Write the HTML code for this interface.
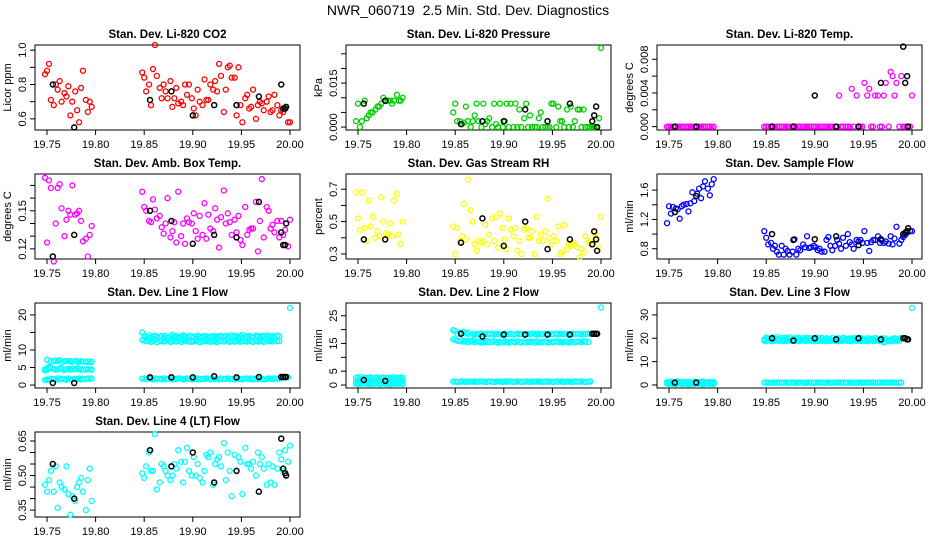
<!DOCTYPE html>
<html><head><meta charset="utf-8"><style>
html,body{margin:0;padding:0;background:#fff}
svg{display:block;font-family:"Liberation Sans",Arial,sans-serif}
</style></head><body>
<svg id="chart" width="936" height="540" viewBox="0 0 936 540" xmlns="http://www.w3.org/2000/svg">
<text x="468" y="15" font-size="14" text-anchor="middle">NWR_060719 &#160;2.5 Min. Std. Dev. Diagnostics</text>
</svg>
<script>
const T = [19.748,19.750,19.752,19.754,19.757,19.759,19.761,19.763,19.765,19.768,19.770,19.772,19.774,19.776,19.779,19.781,19.783,19.785,19.787,19.790,19.792,19.794,19.796,
19.848,19.850,19.852,19.855,19.857,19.859,19.861,19.863,19.866,19.868,19.870,19.872,19.874,19.877,19.879,19.881,19.883,19.885,19.888,19.890,19.892,19.894,19.896,19.899,19.901,19.903,19.905,19.907,19.910,19.912,19.914,19.916,19.918,19.921,19.923,19.925,19.927,19.929,19.932,19.934,19.936,19.938,19.940,19.943,19.945,19.947,19.949,19.951,19.954,19.956,19.958,19.960,19.962,19.965,19.967,19.969,19.971,19.973,19.976,19.978,19.980,19.982,19.984,19.987,19.989,19.991,19.993,19.995,19.998,20.000];
const BT = [19.756,19.778,19.856,19.878,19.900,19.922,19.945,19.968,19.991,19.993,19.995,19.996];
const xTicks = [19.75,19.80,19.85,19.90,19.95,20.00];
const xTickLabels = ["19.75","19.80","19.85","19.90","19.95","20.00"];

const co2 = [0.86,0.88,0.92,0.71,0.68,0.80,0.77,0.82,0.70,0.75,0.73,0.79,0.62,0.70,0.76,0.65,0.58,0.78,0.88,0.71,0.64,0.70,0.67,
0.87,0.84,0.76,0.80,0.68,0.89,1.03,0.85,0.78,0.72, 0.80,0.76,0.72,0.82,0.67,0.72,0.78,0.69,0.70,0.68, 0.80,0.74,0.80,0.72,0.66,0.62,0.77,0.70,0.68,0.83, 0.71,0.71,0.80,0.77,0.82,0.76,0.92,0.85,0.64,0.77, 0.90,0.91,0.84,0.84,0.62,0.90,0.68,0.58,0.72,0.74, 0.66,0.67,0.77,0.60,0.68,0.70,0.69,0.65,0.70,0.73, 0.64,0.65,0.74,0.68,0.62,0.65,0.64,0.66,0.58,0.58];
const co2Black = [0.80,0.55,0.71,0.76,0.62,0.68,0.68,0.73,0.80,0.66,0.66,0.67];

const pres = [0.002,0.008,0.000,0.002,0.009,0.003,0.004,0.005,0.005,0.006,0.007,0.007,0.008,0.010,0.009,0.009,0.009,0.008,0.009,0.011,0.009,0.009,0.010,
0.005,0.008,0.002,0.002,0.001,0.0015,0.007,0.002,0.000,0.002, 0.004,0.008,0.002,0.000,0.008,0.001,0.002,0.003,0.000,0.008, 0.001,0.000,0.008,0.000,0.002,0.008,0.000,0.008,0.000,0.008, 0.000,0.006,0.000,0.003,0.008,0.000,0.004,0.000,0.000,0.000, 0.003,0.005,0.000,0.000,0.000,0.000,0.008,0.008,0.000,0.007, 0.002,0.002,0.000,0.006,0.000,0.007,0.000,0.002,0.006,0.006, 0.000,0.006,0.000,0.000,0.000,0.000,0.000,0.000,0.003,0.027];
const presBlack = [0.008,0.009,0.001,0.002,0.002,0.006,0.002,0.008,0.002,0.004,0.007,0.000];

const temp = [0,0,0,0,0,0,0,0,0,0,0,0,0,0,0,0,0,0,0,0,0,0,0,
0,0,0,0,0,0,0,0,0,0, 0,0,0,0,0,0,0,0,0,0, 0,0,0,0,0,0,0,0,0,0, 0,0,0,0,0,0.0037,0,0,0,0, 0,0.0045,0,0.0037,0,0,0,0.0052,0.0037,0.0045, 0,0,0.0037,0.0037,0,0,0.0037,0.0052,0,0.0065, 0.006,0.0037,0.0052,0,0.006,0,0,0,0,0.0037];
const tempBlack = [0,0,0,0,0.0037,0,0,0.0052,0.0095,0.0052,0.006,0];

const amb = [0.176,0.125,0.174,0.168,0.110,0.140,0.168,0.171,0.152,0.130,0.143,0.150,0.147,0.170,0.147,0.148,0.150,0.142,0.126,0.128,0.114,0.131,0.138,
0.165,0.153,0.150,0.142,0.141,0.159,0.151,0.144,0.146,0.137, 0.132,0.140,0.160,0.129,0.134,0.141,0.125,0.165,0.130,0.140, 0.124,0.144,0.141,0.140,0.148,0.134,0.128,0.146,0.131,0.156, 0.128,0.147,0.136,0.134,0.152,0.143,0.121,0.145,0.166,0.140, 0.148,0.141,0.131,0.143,0.133,0.146,0.127,0.123,0.153,0.131, 0.135,0.136,0.136,0.157,0.118,0.142,0.175,0.129,0.153,0.150, 0.136,0.139,0.133,0.142,0.129,0.142,0.131,0.135,0.122,0.143];
const ambBlack = [0.114,0.131,0.150,0.142,0.124,0.131,0.129,0.157,0.133,0.123,0.123,0.140];

const rh = [0.68,0.52,0.45,0.68,0.46,0.38,0.63,0.47,0.53,0.40,0.44,0.41,0.65,0.50,0.43,0.42,0.49,0.41,0.63,0.67,0.42,0.36,0.50,
0.47,0.30,0.46,0.38,0.41,0.61,0.39,0.76,0.57,0.50, 0.36,0.32,0.38,0.37,0.38,0.48,0.36,0.42,0.52,0.38, 0.53,0.34,0.55,0.46,0.39,0.33,0.52,0.45,0.41,0.46, 0.32,0.38,0.30,0.45,0.46,0.40,0.40,0.44,0.30,0.53, 0.38,0.42,0.38,0.44,0.64,0.40,0.36,0.41,0.38,0.47, 0.30,0.31,0.48,0.33,0.36,0.35,0.37,0.36,0.34,0.28, 0.33,0.31,0.41,0.37,0.38,0.36,0.43,0.40,0.34,0.53];
const rhBlack = [0.39,0.39,0.37,0.52,0.35,0.50,0.33,0.39,0.36,0.44,0.39,0.32];

const sflow = [1.15,1.38,1.28,1.37,1.35,1.34,1.21,1.38,1.40,1.41,1.31,1.42,1.57,1.45,1.55,1.62,1.49,1.65,1.72,1.62,1.53,1.68,1.75,
1.04,0.95,0.86,0.88,0.80,0.84,0.76,0.72,0.84,0.72, 0.80,0.77,0.72,0.76,0.93,0.72,0.80,0.78,0.86,0.82, 0.97,0.81,0.82,0.84,0.82,0.78,0.80,0.76,0.76,0.92, 0.96,0.84,0.78,0.84,0.92,0.87,0.80,0.95,0.84,1.00, 0.89,0.86,0.80,0.92,0.90,0.92,0.88,1.04,0.88,0.77, 0.89,0.92,0.92,0.97,0.88,0.91,0.88,0.90,0.87,0.97, 0.86,0.94,1.10,0.87,0.92,0.96,0.99,1.02,1.04,1.04];
const sflowBlack = [1.30,1.52,1.00,0.92,0.93,0.97,0.85,0.93,1.00,1.02,1.04,1.08];

const line1A = [4.2,7.2,5.2,6.8,6.9,7.0,6.9,7.1,6.4,6.8,6.9,6.8,6.8,6.6,6.9,6.7,6.6,6.8,6.7,6.6,6.7,6.6,6.6,
15.0,14.0,13.8,14.2,13.6,13.9,14.1,13.5,13.8,14.0, 13.6,14.0,13.5,13.9,14.3,13.8,14.0,13.6,13.9,14.2, 13.8,13.6,14.0,13.9,13.7,13.8,14.1,13.9,13.6,14.0, 13.9,13.7,13.8,14.0,13.6,13.9,13.8,14.1,13.7,14.0, 13.9,13.8,14.2,13.9,14.0,13.7,13.9,14.3,13.8,13.9, 14.0,13.8,13.7,14.1,13.9,13.8,14.0,13.9,14.2,13.8, 13.9,14.0,13.7,14.1,13.9,null,null,null,null,22.0];
const line1B = [4.5,4.3,4.8,5.0,4.6,4.4,4.5,4.6,4.7,4.3,4.5,4.6,4.4,4.7,4.5,4.8,4.6,4.3,4.5,4.4,4.6,4.5,4.4,
12.8,13.0,12.5,12.8,12.3,12.6,12.9,12.2,12.5,12.7, 12.4,12.6,12.9,12.3,12.5,12.8,12.4,12.6,12.3,12.7, 12.5,12.8,12.4,12.3,12.6,12.5,12.7,12.2,12.4,12.6, 12.5,12.7,12.3,12.4,12.6,12.2,12.5,12.6,12.4,12.7, 12.5,12.3,12.6,12.4,12.5,12.7,12.3,12.6,12.5,12.4, 12.6,12.5,12.3,12.7,12.4,12.6,12.5,12.3,12.8,12.5, 12.6,12.4,12.7,12.5,12.6,null,null,null,null,null];
const line1C = [1.4,1.6,1.5,1.8,1.7,1.5,1.9,1.6,1.8,1.7,1.5,1.9,1.7,1.6,1.8,1.7,1.9,1.6,1.8,1.7,1.9,1.8,1.9,
1.8,1.9,1.7,2.0,1.8,1.6,1.9,1.7,1.8,1.6, 1.9,1.7,1.8,1.9,1.6,1.8,1.7,1.9,1.8,1.6, 1.7,1.9,1.8,1.6,1.8,1.7,1.9,1.6,1.8,1.7, 1.9,1.8,1.6,1.9,1.7,1.8,1.6,1.9,1.7,1.8, 1.9,1.7,1.8,1.6,1.9,1.8,1.7,1.6,1.9,1.8, 1.7,1.9,1.6,1.8,1.7,1.9,1.8,1.6,1.7,1.9, 1.8,1.7,1.9,1.8,1.9,2.0,2.1,2.2,2.2,null];
const line1Black = [0.6,0.6,2.2,2.2,2.2,2.5,2.2,2.3,2.3,2.3,2.3,2.3];

const line2A = [2.6,2.8,2.5,2.9,2.4,2.7,2.6,2.8,2.5,2.6,2.7,2.4,2.6,2.8,2.5,2.7,2.6,2.4,2.8,2.6,2.5,2.7,2.6,
19.8,19.5,18.5,19.0,18.8,19.2,18.6,18.9,17.5,18.4, 18.2,18.5,18.3,18.6,18.2,18.4,18.5,18.3,18.6,18.2, 18.4,18.5,18.3,18.2,18.6,18.4,18.3,18.5,18.2,18.4, 18.6,18.3,18.5,18.2,18.4,18.5,18.3,18.6,18.4,18.2, 18.5,18.3,18.4,18.6,18.2,18.5,18.3,18.4,18.6,18.2, 18.5,18.4,18.3,18.5,18.2,18.4,18.6,18.3,18.5,18.4, 18.3,18.5,18.4,18.6,18.5,null,null,null,null,28.0];
const line2B = [1.2,1.5,1.0,1.3,1.6,1.2,1.4,1.1,1.5,1.3,1.2,1.6,1.4,1.1,1.3,1.5,1.2,1.4,1.3,1.6,1.2,1.4,1.5,
16.5,16.3,16.0,15.8,16.2,15.6,15.9,15.5,15.7,16.0, 15.4,15.8,15.5,15.3,15.7,15.5,15.9,15.4,15.6,15.8, 15.5,15.2,15.6,15.4,15.8,15.5,15.3,15.7,15.6,15.4, 15.8,15.5,15.3,15.6,15.4,15.7,15.5,15.6,15.3,15.8, 15.5,15.4,15.6,15.7,15.3,15.5,15.6,15.4,15.8,15.5, 15.6,15.4,15.5,15.7,15.3,15.6,15.5,15.4,15.7,15.6, 15.5,15.8,15.6,15.5,null,null,null,null,null,null];
const line2C = [0.5,0.3,0.6,0.4,0.7,0.5,0.3,0.6,0.4,0.5,0.7,0.3,0.5,0.6,0.4,0.5,0.3,0.6,0.5,0.4,0.6,0.5,0.4,
1.2,1.3,1.1,1.2,1.3,1.2,1.1,1.3,1.2,1.2, 1.3,1.1,1.2,1.3,1.2,1.1,1.2,1.3,1.2,1.1, 1.2,1.3,1.2,1.1,1.3,1.2,1.2,1.3,1.1,1.2, 1.3,1.2,1.1,1.2,1.3,1.2,1.1,1.3,1.2,1.2, 1.3,1.2,1.1,1.2,1.3,1.2,1.2,1.1,1.3,1.2, 1.2,1.3,1.1,1.2,1.3,1.2,1.1,1.3,1.2,1.2, 1.3,1.2,1.1,1.2,1.3,null,null,null,null,null];
const line2Black = [1.8,1.5,18.5,17.5,18.2,18.2,18.2,18.2,18.5,18.5,18.5,18.5];

const line3A = [1.2,1.0,1.4,1.1,1.3,1.5,1.0,1.2,1.4,1.1,1.3,1.2,1.0,1.4,1.1,1.3,1.2,1.5,1.0,1.2,1.3,1.1,1.2,
19.5,20.3,20.0,19.6,20.4,19.8,20.5,19.7,20.1,19.4, 20.2,19.8,20.4,19.6,20.0,19.9,20.3,19.5,20.1,19.8, 20.2,19.6,20.0,19.9,19.5,20.1,19.8,20.2,19.6,20.0, 19.8,19.5,20.1,19.7,20.0,19.9,19.6,20.2,19.8,19.5, 20.0,19.7,20.1,19.9,19.6,20.2,19.8,19.5,20.0,19.7, 19.9,19.6,20.1,19.8,19.5,20.0,19.7,19.9,18.8,19.4, 19.7,20.0,19.6,19.9,20.1,null,null,null,null,33.0];
const line3B = [0.6,0.4,0.7,0.5,0.3,0.6,0.8,0.4,0.5,0.7,0.3,0.6,0.5,0.4,0.7,0.5,0.6,0.3,0.5,0.7,0.4,0.6,0.5,
19.0,18.8,19.2,18.7,19.1,18.9,19.3,18.8,19.0,18.7, 19.2,18.9,19.1,18.8,19.0,19.2,18.7,18.9,19.1,18.8, 19.0,19.2,18.9,18.7,19.1,18.8,19.0,18.9,19.2,18.7, 19.0,18.9,19.1,18.8,19.2,18.7,19.0,18.9,19.1,18.8, 19.0,18.7,19.2,18.9,19.0,18.8,19.1,18.9,18.7,19.0, 19.2,18.8,18.9,19.1,18.7,19.0,18.2,18.5,19.0,18.8, 18.9,19.1,18.8,19.0,null,null,null,null,null,null];
const line3C = [0.9,1.1,0.8,1.0,1.2,0.9,1.1,1.0,0.8,1.2,0.9,1.0,1.1,0.8,1.0,1.2,0.9,1.1,1.0,0.8,1.1,0.9,1.0,
1.0,1.1,0.9,1.0,1.1,1.0,0.9,1.1,1.0,1.0, 1.1,0.9,1.0,1.1,1.0,0.9,1.0,1.1,1.0,0.9, 1.0,1.1,1.0,0.9,1.1,1.0,1.0,1.1,0.9,1.0, 1.1,1.0,0.9,1.0,1.1,1.0,0.9,1.1,1.0,1.0, 1.1,1.0,0.9,1.0,1.1,1.0,1.0,0.9,1.1,1.0, 1.0,1.1,0.9,1.0,1.1,1.0,0.9,1.1,1.0,1.0, 1.1,1.0,0.9,1.0,1.1,null,null,null,null,null];
const line3Black = [1,1,20,19,20,19.5,20,19.5,20,20,19.5,19.5];

const line4 = [0.46,0.43,0.48,0.52,0.43,0.54,0.36,0.47,0.45,0.44,0.54,0.42,0.33,0.41,0.39,0.45,0.47,0.49,0.43,0.35,0.48,0.53,0.39,
0.51,0.49,0.54,0.60,0.52,0.52,0.68,0.44,0.47,0.55, 0.54,0.52,0.50,0.48,0.50,0.55,0.53,0.61,0.56,0.47, 0.56,0.62,0.52,0.50,0.58,0.50,0.55,0.49,0.47,0.52, 0.59,0.58,0.60,0.46,0.55,0.57,0.58,0.54,0.64,0.48, 0.60,0.52,0.41,0.59,0.52,0.58,0.56,0.42,0.62,0.55, 0.55,0.53,0.56,0.50,0.60,0.55,0.58,0.53,0.46,0.55, 0.47,0.54,0.46,0.53,0.60,0.57,0.52,0.61,0.56,0.63];
const line4Black = [0.55,0.40,0.61,0.54,0.60,0.47,0.52,0.43,0.66,0.53,0.51,0.50];

const panels = [
 {name:"co2",title:"Stan. Dev. Li-820 CO2",ylab:"Licor ppm",col:0,row:0,ymin:0.535,ymax:1.03,ticks:[0.6,0.7,0.8,0.9,1.0],labels:["0.6","","0.8","","1.0"],series:[co2],color:"#ff0000",black:co2Black},
 {name:"pressure",title:"Stan. Dev. Li-820 Pressure",ylab:"kPa",col:1,row:0,ymin:-0.001,ymax:0.028,ticks:[0,0.005,0.010,0.015,0.020,0.025],labels:["0.000","","","0.015","",""],series:[pres],color:"#00cd00",black:presBlack},
 {name:"temp",title:"Stan. Dev. Li-820 Temp.",ylab:"degrees C",col:2,row:0,ymin:-0.0004,ymax:0.0097,ticks:[0,0.002,0.004,0.006,0.008],labels:["0.000","","0.004","","0.008"],series:[temp],color:"#ff00ff",black:tempBlack},
 {name:"amb-temp",title:"Stan. Dev. Amb. Box Temp.",ylab:"degrees C",col:0,row:1,ymin:0.112,ymax:0.179,ticks:[0.12,0.13,0.14,0.15,0.16,0.17],labels:["0.12","","","0.15","",""],series:[amb],color:"#ff00ff",black:ambBlack},
 {name:"rh",title:"Stan. Dev. Gas Stream RH",ylab:"percent",col:1,row:1,ymin:0.269,ymax:0.794,ticks:[0.3,0.4,0.5,0.6,0.7],labels:["0.3","","0.5","","0.7"],series:[rh],color:"#ffff00",black:rhBlack},
 {name:"sample-flow",title:"Stan. Dev. Sample Flow",ylab:"ml/min",col:2,row:1,ymin:0.66,ymax:1.82,ticks:[0.8,1.0,1.2,1.4,1.6],labels:["0.8","","1.2","","1.6"],series:[sflow],color:"#0000ff",black:sflowBlack},
 {name:"line1",title:"Stan. Dev. Line 1 Flow",ylab:"ml/min",col:0,row:2,ymin:-0.84,ymax:23.4,ticks:[0,5,10,15,20],labels:["0","5","10","","20"],series:[line1A,line1B,line1C],color:"#00ffff",black:line1Black},
 {name:"line2",title:"Stan. Dev. Line 2 Flow",ylab:"ml/min",col:1,row:2,ymin:-1.07,ymax:29.6,ticks:[0,5,10,15,20,25],labels:["0","5","","15","","25"],series:[line2A,line2B,line2C],color:"#00ffff",black:line2Black},
 {name:"line3",title:"Stan. Dev. Line 3 Flow",ylab:"ml/min",col:2,row:2,ymin:-1.3,ymax:35.1,ticks:[0,10,20,30],labels:["0","10","20","30"],series:[line3A,line3B,line3C],color:"#00ffff",black:line3Black},
 {name:"line4",title:"Stan. Dev. Line 4 (LT) Flow",ylab:"ml/min",col:0,row:3,ymin:0.32,ymax:0.689,ticks:[0.35,0.40,0.45,0.50,0.55,0.60,0.65],labels:["0.35","","","0.50","","","0.65"],series:[line4],color:"#00ffff",black:line4Black}
];

const NS = "http://www.w3.org/2000/svg";
const svg = document.getElementById("chart");
const colLeft = [35,346,657], rowTop = [45,174,303,432], W = 265, H = 85;
function mk(tag, attrs, parent){const e=document.createElementNS(NS,tag);for(const k in attrs)e.setAttribute(k,attrs[k]);parent.appendChild(e);return e;}

panels.forEach(p=>{
  const L=colLeft[p.col], Tp=rowTop[p.row], B=Tp+H;
  const g=mk("g",{},svg);
  
  
  const xs=t=>L+12+(t-19.75)/0.25*243;
  const ys=v=>B-(v-p.ymin)/(p.ymax-p.ymin)*H;
  const box=mk("rect",{x:L,y:Tp,width:W,height:H,fill:"none",stroke:"#000","stroke-width":1},g);
  
  
  const tt=mk("text",{x:L+W/2,y:Tp-7,"font-size":11.5,"font-weight":"bold","text-anchor":"middle"},g);
  tt.textContent=p.title;
  
  
  const xa=mk("g",{},g);
  
  
  xTicks.forEach((v,i)=>{
    mk("line",{x1:xs(v),x2:xs(v),y1:B,y2:B+5,stroke:"#000"},xa);
    const t=mk("text",{x:xs(v),y:B+18,"font-size":11,"text-anchor":"middle"},xa);
    t.textContent=xTickLabels[i];
    
    
  });
  const ya=mk("g",{},g);
  
  
  p.ticks.forEach((v,i)=>{
    const y=ys(v);
    mk("line",{x1:L-5,x2:L,y1:y,y2:y,stroke:"#000"},ya);
    if(p.labels[i]){
      const t=mk("text",{x:L-9,y:y,"font-size":11,"text-anchor":"middle",transform:`rotate(-90 ${L-9} ${y})`},ya);
      t.textContent=p.labels[i];
      
      
    }
  });
  const yl=mk("text",{x:L-24,y:Tp+H/2,"font-size":11,"text-anchor":"middle",transform:`rotate(-90 ${L-24} ${Tp+H/2})`},g);
  yl.textContent=p.ylab;
  
  
  p.series.forEach(s=>{
    s.forEach((v,i)=>{
      if(v===null)return;
      const c=mk("circle",{cx:xs(T[i]),cy:ys(v),r:2.5,fill:"none",stroke:p.color,"stroke-width":1.3},g);
      
      
    });
  });
  p.black.forEach((v,i)=>{
    const c=mk("circle",{cx:xs(BT[i]),cy:ys(v),r:2.5,fill:"none",stroke:"#000","stroke-width":1.5},g);
    
    
  });
});
</script>
</body></html>
